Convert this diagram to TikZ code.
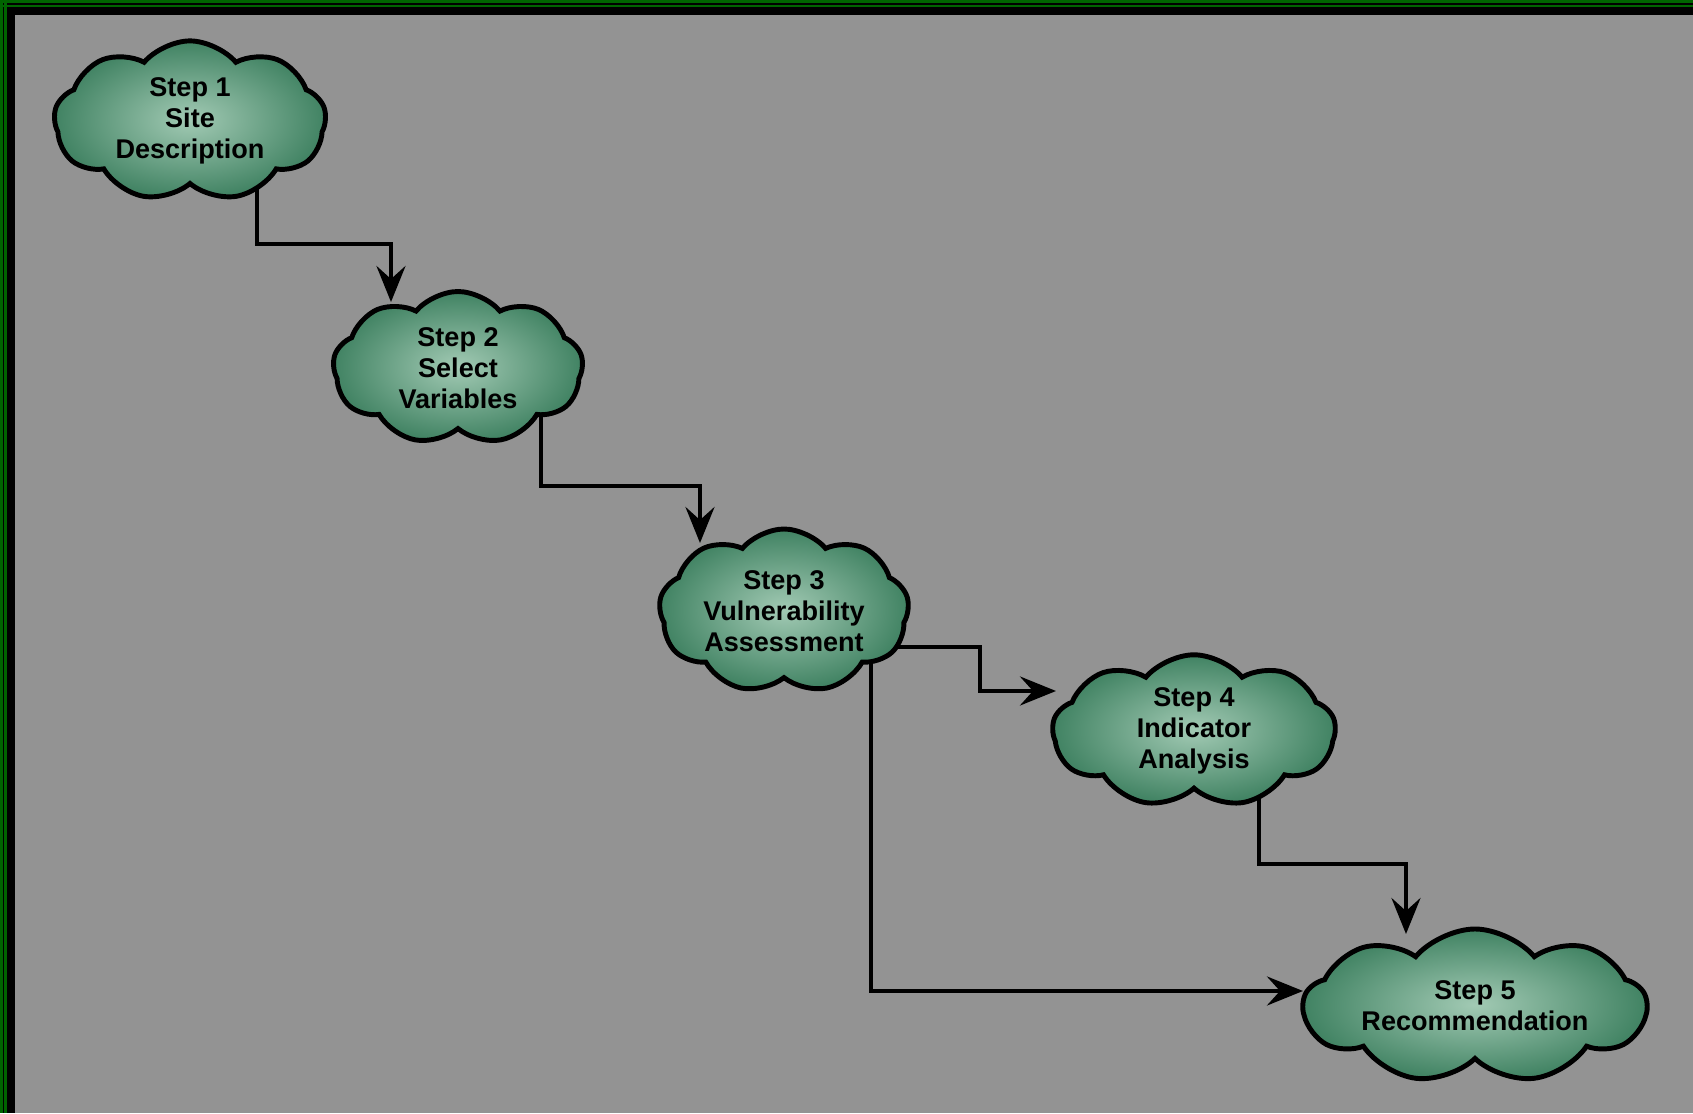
\documentclass[tikz,border=0pt]{standalone}
\usepackage{fontspec}
\setsansfont{Liberation Sans}
\usetikzlibrary{shapes.symbols, positioning, arrows.meta, backgrounds}

\definecolor{panelgrey}{RGB}{147,147,147}
\definecolor{framegreen}{RGB}{0,100,0}
\definecolor{cloudlight}{RGB}{162,202,180}
\definecolor{clouddark}{RGB}{64,130,98}

\tikzset{
  stepcloud/.style={cloud, cloud puffs=9, cloud puff arc=100, cloud ignores aspect,
    draw=black, line width=1.4pt, shading=radial, inner color=cloudlight, outer color=clouddark,
    align=center, inner sep=1pt,
    font=\sffamily\bfseries\fontsize{7.7}{8.9}\selectfont},
  flow/.style={line width=1.15pt, -{Stealth[length=0.36cm, width=0.29cm, inset=0.13cm]}}
}

\begin{document}
\begin{tikzpicture}[node distance=2.5cm, on grid]
  \useasboundingbox (0,0) rectangle (16.93,11.13);
  \node[stepcloud, minimum width=2.72cm, minimum height=1.56cm] (s1) at (1.90,9.92) {Step 1\\Site\\Description};
  \node[stepcloud, minimum width=2.50cm, minimum height=1.53cm] (s2) [below right=2.47cm and 2.68cm of s1] {Step 2\\Select\\Variables};
  \node[stepcloud, minimum width=2.50cm, minimum height=1.64cm] (s3) [below right=2.43cm and 3.26cm of s2] {Step 3\\Vulnerability\\Assessment};
  \node[stepcloud, minimum width=2.83cm, minimum height=1.40cm] (s4) [below right=1.20cm and 4.10cm of s3] {Step 4\\Indicator\\Analysis};
  \node[stepcloud, minimum width=3.43cm, minimum height=1.54cm] (s5) [below right=2.75cm and 2.81cm of s4] {Step 5\\Recommendation};

  \begin{pgfonlayer}{background}
    % panel and frame
    \fill[panelgrey] (0,0) rectangle (16.93,11.13);
    \fill[black] (0,0) rectangle (0.15,11.13);
    \fill[black] (0,10.98) rectangle (16.93,11.13);
    \fill[framegreen] (0,0) rectangle (0.03,11.13);
    \fill[framegreen] (0.04,0) rectangle (0.07,11.13);
    \fill[framegreen] (0,11.10) rectangle (16.93,11.13);
    \fill[framegreen] (0,11.06) rectangle (16.93,11.08);
    % connectors (start inside the clouds, hidden by their fill)
    \draw[flow] ([shift={(0.67,-0.45)}]s1.center) -- ++(0,-0.78) -| ([shift={(-0.67,0.66)}]s2.center);
    \draw[flow] ([shift={(0.83,-0.45)}]s2.center) -- ++(0,-0.73) -| ([shift={(-0.84,0.68)}]s3.center);
    \draw[flow] ([shift={(1.00,-0.36)}]s3.center) -- ++(0.96,0) |- ([shift={(-1.38,0.40)}]s4.center);
    \draw[flow] ([shift={(0.65,-0.40)}]s4.center) -- ++(0,-0.93) -| ([shift={(-0.69,0.72)}]s5.center);
    \draw[flow] ([shift={(0.87,-0.45)}]s3.center) |- ([shift={(-1.72,0.15)}]s5.center);
  \end{pgfonlayer}
\end{tikzpicture}
\end{document}
